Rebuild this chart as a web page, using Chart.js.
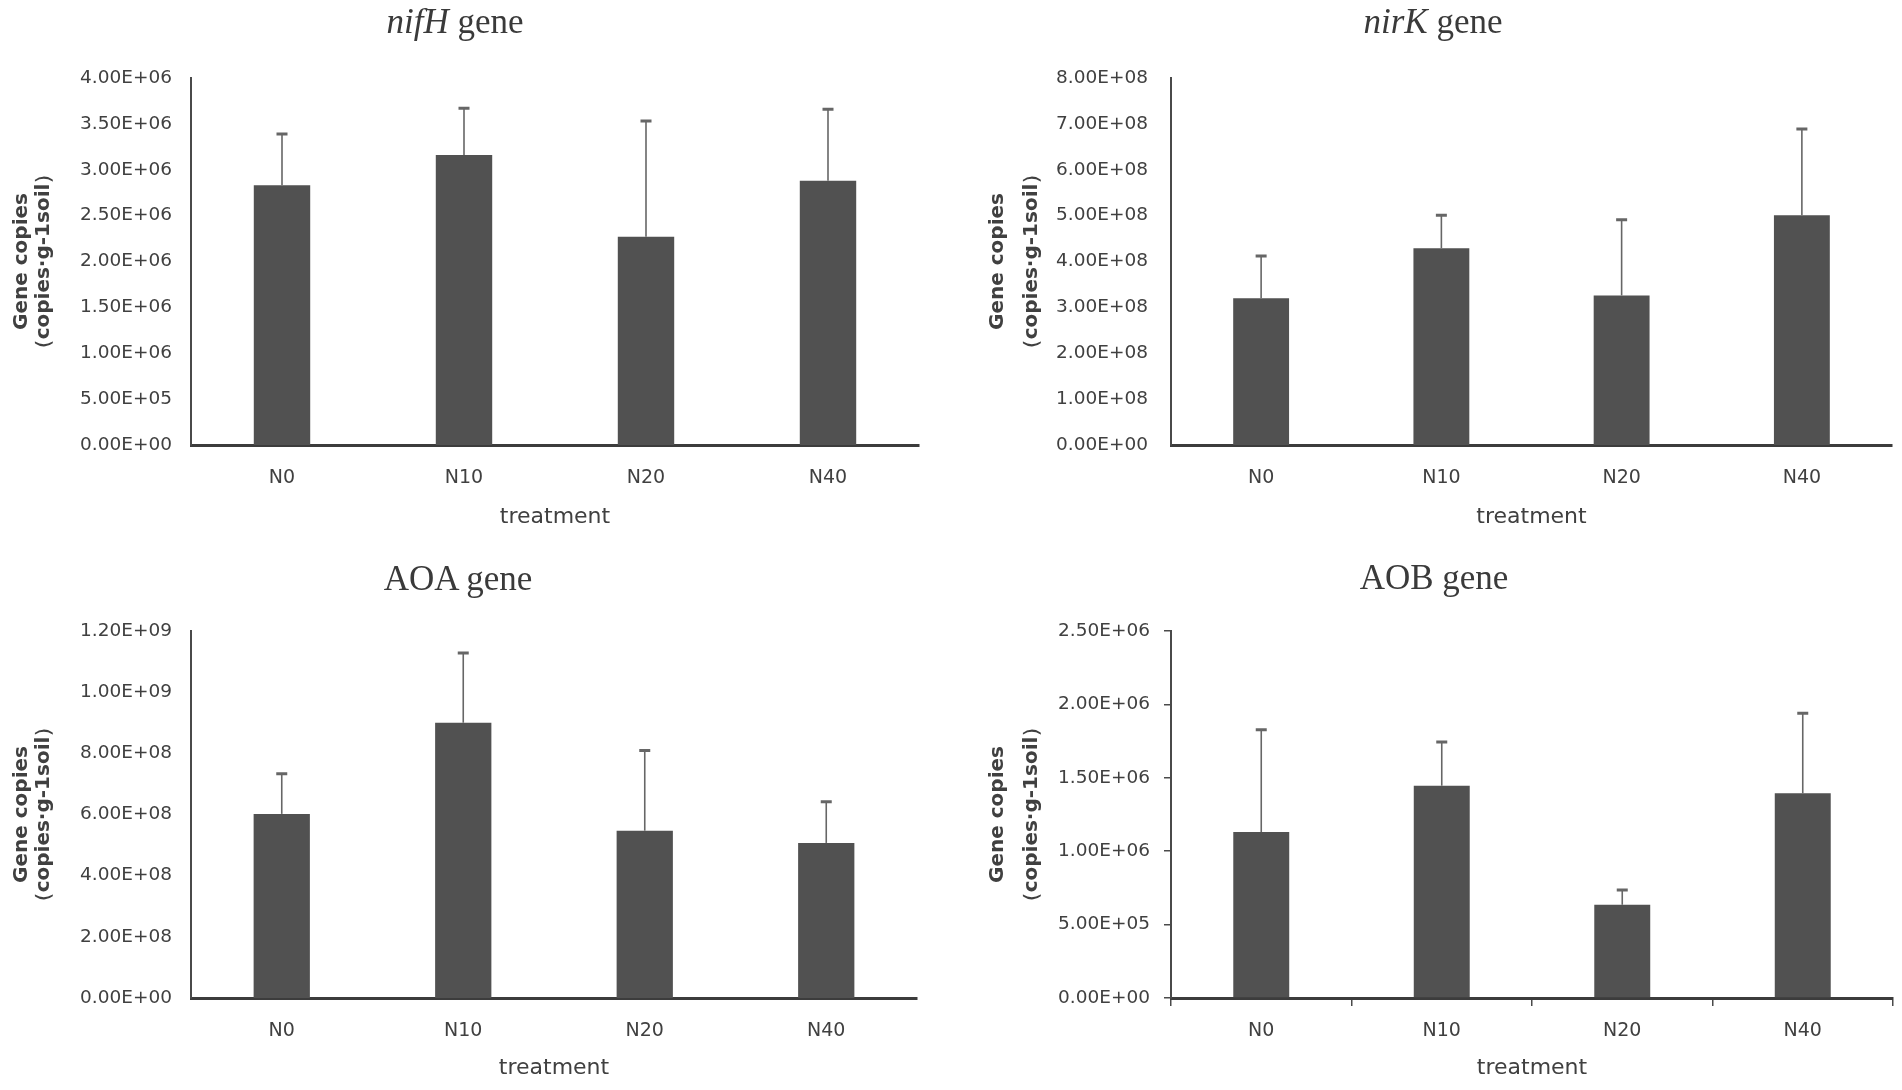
<!DOCTYPE html>
<html>
<head>
<meta charset="utf-8">
<script src="https://cdn.jsdelivr.net/npm/chart.js@4.4.1/dist/chart.umd.min.js"></script>
<style>
  html, body { margin:0; padding:0; background:#fff; }
  body { width:1902px; height:1090px; position:relative; overflow:hidden; }
  .panel { position:absolute; width:951px; height:545px; }
  .panel canvas { width:951px; height:545px; display:block; }
  .ttl { position:absolute; width:400px; text-align:center; font-family:'Liberation Serif','Times New Roman',serif;
         font-size:35px; line-height:40px; color:#3a3a3a; white-space:nowrap; z-index:2; }
</style>
</head>
<body>
<div class="panel" style="left:0;top:0"><canvas id="cNifH" width="951" height="545"></canvas></div>
<div class="panel" style="left:951px;top:0"><canvas id="cNirK" width="951" height="545"></canvas></div>
<div class="panel" style="left:0;top:545px"><canvas id="cAOA" width="951" height="545"></canvas></div>
<div class="panel" style="left:951px;top:545px"><canvas id="cAOB" width="951" height="545"></canvas></div>

<div class="ttl" style="left:255px;top:2px"><i>nifH</i> gene</div>
<div class="ttl" style="left:1233px;top:2px"><i>nirK</i> gene</div>
<div class="ttl" style="left:258px;top:559px">AOA gene</div>
<div class="ttl" style="left:1234px;top:558px">AOB gene</div>

<script>
// ---------------- data ----------------
const categories = ['N0', 'N10', 'N20', 'N40'];

const nifHMean  = [2.83e6, 3.16e6, 2.27e6, 2.88e6];
const nifHUpper = [3.39e6, 3.67e6, 3.53e6, 3.66e6];

const nirKMean  = [3.20e8, 4.29e8, 3.26e8, 5.01e8];
const nirKUpper = [4.12e8, 5.01e8, 4.91e8, 6.89e8];

const aoaMean   = [6.02e8, 9.00e8, 5.47e8, 5.07e8];
const aoaUpper  = [7.33e8, 1.128e9, 8.09e8, 6.42e8];

const aobMean   = [1.13e6, 1.446e6, 6.35e5, 1.394e6];
const aobUpper  = [1.827e6, 1.744e6, 7.35e5, 1.939e6];

const yAxisTitle = ['Gene copies', '（copies·g-1soil）'];
const xAxisTitle = 'treatment';

// ---------------- helpers ----------------
function sci(v) {
  if (Math.abs(v) < 1e-12) return '0.00E+00';
  let e = Math.floor(Math.log10(Math.abs(v)) + 1e-9);
  let m = v / Math.pow(10, e);
  if (Math.abs(m) >= 9.995) { m /= 10; e += 1; }
  return m.toFixed(2) + 'E' + (e < 0 ? '-' : '+') + String(Math.abs(e)).padStart(2, '0');
}

Chart.defaults.font.family = "'DejaVu Sans', sans-serif";
Chart.defaults.color = '#404040';

const BAR = '#515151';
const AXIS = '#4a4a4a';
const ERR = '#666666';

function makeChart(id, mean, upper, o) {
  const ctx = document.getElementById(id);
  const ticksOn = !!o.ticks;
  return new Chart(ctx, {
    type: 'bar',
    data: {
      labels: categories,
      datasets: [
        {
          data: mean,
          backgroundColor: BAR,
          borderWidth: 0,
          grouped: false,
          barPercentage: 0.31,
          categoryPercentage: 1.0,
          order: 3
        },
        {
          data: mean.map((m, i) => [m, upper[i]]),
          backgroundColor: ERR,
          borderWidth: 0,
          grouped: false,
          barThickness: 1.6,
          inflateAmount: 0,
          order: 2
        },
        {
          type: 'line',
          data: upper,
          showLine: false,
          pointStyle: 'line',
          pointRadius: 5.5,
          pointHoverRadius: 5.5,
          borderColor: ERR,
          backgroundColor: ERR,
          pointBorderWidth: 3,
          borderWidth: 3,
          order: 1
        }
      ]
    },
    options: {
      responsive: false,
      animation: false,
      devicePixelRatio: 1,
      events: [],
      layout: { padding: { top: o.top, right: o.right, left: o.left, bottom: 0 } },
      plugins: { legend: { display: false }, tooltip: { enabled: false }, title: { display: false } },
      scales: {
        x: {
          type: 'category',
          offset: true,
          grid: {
            display: ticksOn,
            drawOnChartArea: false,
            drawTicks: ticksOn,
            tickLength: 8,
            color: AXIS,
            lineWidth: 1.5,
            offset: true
          },
          border: { display: true, color: '#3c3c3c', width: 3 },
          ticks: {
            font: { size: 19 },
            color: '#404040',
            padding: ticksOn ? 14 : 22,
            maxRotation: 0,
            autoSkip: false
          },
          title: {
            display: true,
            text: xAxisTitle,
            font: { size: 22 },
            color: '#404040',
            padding: { top: 0, bottom: o.xTitlePad }
          },
          afterFit: (s) => { s.height = o.xHeight; }
        },
        y: {
          min: 0,
          max: o.max,
          grid: {
            display: ticksOn,
            drawOnChartArea: false,
            drawTicks: ticksOn,
            tickLength: 7,
            color: AXIS,
            lineWidth: 1.5
          },
          border: { display: true, color: AXIS, width: 2 },
          ticks: {
            stepSize: o.step,
            font: { size: 18.5 },
            color: '#404040',
            padding: ticksOn ? 14 : o.yTickPad,
            callback: (v) => sci(v)
          },
          title: {
            display: true,
            text: yAxisTitle,
            font: { size: 20, weight: 'bold', lineHeight: o.yLH },
            color: '#404040',
            padding: { top: o.yTitlePad, bottom: 0 }
          },
          afterFit: (s) => { s.width = 191; }
        }
      }
    }
  });
}

makeChart('cNifH', nifHMean, nifHUpper,
  { top: 78, right: 32, left: 0, max: 4e6, step: 5e5, xHeight: 100, xTitlePad: 15, yTickPad: 19, yLH: 1.1, yTitlePad: 11 });
makeChart('cNirK', nirKMean, nirKUpper,
  { top: 78, right: 10, left: 29, max: 8e8, step: 1e8, xHeight: 100, xTitlePad: 15, yTickPad: 23, yLH: 1.7, yTitlePad: 1 });
makeChart('cAOA', aoaMean, aoaUpper,
  { top: 86, right: 34, left: 0, max: 1.2e9, step: 2e8, xHeight: 92, xTitlePad: 9, yTickPad: 19, yLH: 1.1, yTitlePad: 11 });
makeChart('cAOB', aobMean, aobUpper,
  { top: 86, right: 9, left: 29, max: 2.5e6, step: 5e5, xHeight: 92, xTitlePad: 9, yTickPad: 21, yLH: 1.7, yTitlePad: 1, ticks: true });
</script>
</body>
</html>
